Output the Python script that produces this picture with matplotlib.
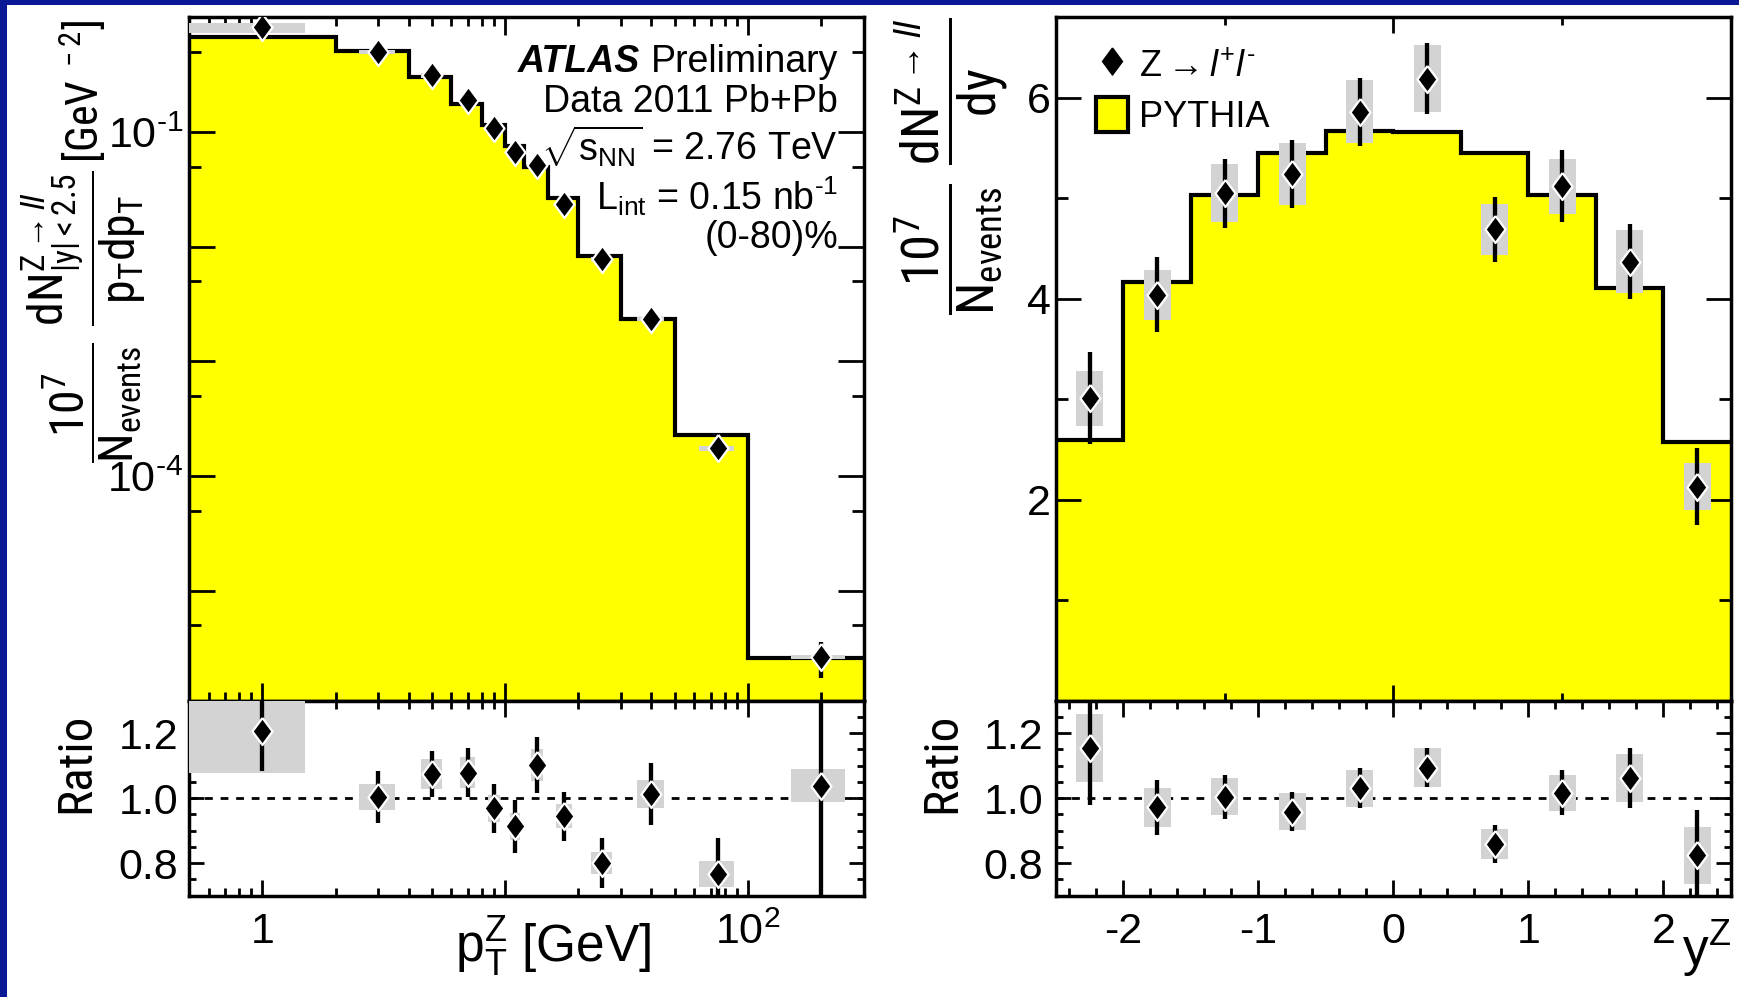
import numpy as np
import matplotlib
matplotlib.use("Agg")
import matplotlib.pyplot as plt
from matplotlib import font_manager
from matplotlib.font_manager import FontProperties
from matplotlib.patches import Rectangle, Patch
from matplotlib.lines import Line2D
from matplotlib.ticker import (FixedLocator, FuncFormatter, NullFormatter,
                               LogLocator, MultipleLocator, FixedFormatter)


def find_condensed():
    # the vertical axis titles of the original use a narrow sans face
    ents = font_manager.fontManager.ttflist
    names = {f.name for f in ents}
    for fam in ('Liberation Sans Narrow', 'Roboto Condensed',
                'Open Sans Condensed', 'Noto Sans Condensed'):
        if fam in names:
            return fam
    for fam in ('Roboto', 'Noto Sans', 'Open Sans'):
        for f in ents:
            if f.name == fam and f.stretch == 'condensed' and f.style == 'normal':
                return fam + ':condensed'
    return 'Liberation Sans'


NARROW = find_condensed()
HY = '\u2010'  # short hyphen for exponents, as in the original

plt.rcParams['font.family'] = ['Liberation Sans', 'DejaVu Sans']
plt.rcParams['mathtext.fontset'] = 'custom'
plt.rcParams['mathtext.rm'] = 'Liberation Sans'
plt.rcParams['mathtext.it'] = 'Liberation Sans:italic'
plt.rcParams['mathtext.bf'] = 'Liberation Sans:bold'
plt.rcParams['mathtext.sf'] = NARROW
plt.rcParams['axes.unicode_minus'] = False

# ---- Z pT spectrum (left)
pt_edges = [0, 2, 4, 6, 8, 10, 12, 15, 20, 30, 50, 100, 300]
pt_pythia = [0.676, 0.506, 0.302, 0.177, 0.116, 0.076, 0.0498, 0.0265,
             0.00836, 0.00234, 2.27e-4, 2.58e-6]
pt_x = [1, 3, 5, 7, 9, 11, 13.5, 17.5, 25, 40, 75, 200]
pt_val = [0.815, 0.494, 0.312, 0.189, 0.108, 0.0669, 0.0511, 0.0237,
          0.00782, 0.00234, 1.74e-4, 2.65e-6]
pt_stat = [0.08, 0.039, 0.021, 0.013, 0.0083, 0.006, 0.004, 0.0019,
           0.00074, 0.00022, 2.5e-5, 0.9e-6]
pt_syst = [0.085, 0.02, 0.014, 0.0083, 0.0046, 0.003, 0.0024, 0.00092,
           0.00033, 0.0001, 0.9e-5, 1.3e-7]
pt_ratio = [1.206, 1.005, 1.074, 1.079, 0.969, 0.913, 1.102, 0.944,
            0.801, 1.013, 0.766, 1.039]
pt_ratio_stat = [0.121, 0.08, 0.07, 0.076, 0.075, 0.082, 0.087, 0.076,
                 0.076, 0.096, 0.111, 0.40]
pt_ratio_syst = [0.127, 0.04, 0.047, 0.047, 0.041, 0.042, 0.05, 0.037,
                 0.034, 0.042, 0.04, 0.05]

# ---- Z rapidity (right)
y_edges = [-2.5, -2.0, -1.5, -1.0, -0.5, 0.0, 0.5, 1.0, 1.5, 2.0, 2.5]
y_pythia = [2.59, 4.17, 5.03, 5.45, 5.67, 5.66, 5.45, 5.03, 4.11, 2.57]
y_x = [-2.25, -1.75, -1.25, -0.75, -0.25, 0.25, 0.75, 1.25, 1.75, 2.25]
y_val = [3.01, 4.04, 5.05, 5.24, 5.86, 6.19, 4.69, 5.12, 4.37, 2.13]
y_stat = [0.455, 0.37, 0.345, 0.335, 0.34, 0.355, 0.325, 0.355, 0.375, 0.385]
y_syst = [0.275, 0.25, 0.29, 0.31, 0.315, 0.335, 0.255, 0.275, 0.31, 0.235]
y_ratio = [1.155, 0.972, 1.004, 0.959, 1.031, 1.094, 0.86, 1.017, 1.062, 0.824]
y_ratio_stat = [0.176, 0.085, 0.068, 0.06, 0.062, 0.06, 0.059, 0.069, 0.093, 0.14]
y_ratio_syst = [0.104, 0.06, 0.057, 0.057, 0.057, 0.06, 0.046, 0.055, 0.075, 0.088]

W, H = 1740, 997
YELLOW = '#ffff00'
GREY = '#d3d3d3'
BLUE = '#0a1896'
diamond = [(0, 1), (0.74, 0), (0, -1), (-0.74, 0), (0, 1)]


def fx(x):
    return x / W


def fy(y):
    return 1 - y / H


def px_box(x0, y0, x1, y1):
    return [x0 / W, 1 - y1 / H, (x1 - x0) / W, (y1 - y0) / H]


def draw_hist(ax, edges, vals, base):
    ax.stairs(vals, edges, fill=True, color=YELLOW, baseline=base, zorder=1)
    ax.stairs(vals, edges, baseline=None, color='black', lw=3, zorder=2)


def draw_points(ax, x, y, stat, syst, half_w):
    for xi, yi, si, hw in zip(x, y, syst, half_w):
        ax.add_patch(Rectangle((xi - hw, yi - si), 2 * hw, 2 * si,
                               facecolor=GREY, edgecolor='none', zorder=3))
    ax.errorbar(x, y, yerr=stat, fmt='none', ecolor='black',
                elinewidth=3.1, capsize=0, zorder=4)
    ax.plot(x, y, ls='none', marker=diamond, ms=19.5, mfc='black',
            mec='white', mew=1.6, zorder=5)


def style(ax, xl, yl):
    for s in ax.spines.values():
        s.set_linewidth(2.5)
    ax.tick_params(axis='both', which='both', direction='in', top=True,
                   right=True, width=2.0, labelsize=31)
    ax.tick_params(axis='x', which='major', length=xl[0], pad=12)
    ax.tick_params(axis='x', which='minor', length=xl[1])
    ax.tick_params(axis='y', which='major', length=yl[0])
    ax.tick_params(axis='y', which='minor', length=yl[1])


def fit_length(t, target):
    # scale a rotated title so that its length matches the original
    for _ in range(2):
        ext = t.get_window_extent(fig.canvas.get_renderer())
        t.set_fontsize(t.get_fontsize() * target / ext.height)


def log_label(v, pos):
    e = int(round(np.log10(v)))
    if e in (-1, -4):
        return '$10^{' + HY + str(-e) + '}$'
    return ''


fig = plt.figure(figsize=(W / 100, H / 100), dpi=100)
fig.patch.set_facecolor(BLUE)
fig.add_artist(Rectangle((fx(7), -0.05), 1.1, fy(5) + 0.05,
                         transform=fig.transFigure, facecolor='white',
                         edgecolor='none', zorder=-10))

# ---------------- left: pT
pt_xlim = (0.5, 300)
ax1 = fig.add_axes(px_box(189.3, 17.3, 864, 700.7))
ax1r = fig.add_axes(px_box(189.3, 700.7, 864, 895.7))
for a in (ax1, ax1r):
    a.set_xscale('log')
    a.set_xlim(*pt_xlim)
    a.xaxis.set_major_locator(FixedLocator([1, 10, 100]))
    a.xaxis.set_minor_locator(LogLocator(base=10, subs=np.arange(2, 10), numticks=20))
    a.xaxis.set_minor_formatter(NullFormatter())

edges_draw = np.maximum(pt_edges, pt_xlim[0])
pt_hw = [(hi - lo) / 4 for lo, hi in zip(pt_edges[:-1], pt_edges[1:])]
draw_hist(ax1, edges_draw, pt_pythia, 1e-9)
draw_points(ax1, pt_x, pt_val, pt_stat, pt_syst, pt_hw)
ax1.set_yscale('log')
ax1.set_ylim(1.1e-6, 1.0)
ax1.yaxis.set_major_locator(FixedLocator(10.0 ** np.arange(-6, 1)))
ax1.yaxis.set_minor_locator(FixedLocator(5 * 10.0 ** np.arange(-6, 0)))
ax1.yaxis.set_major_formatter(FuncFormatter(log_label))
ax1.yaxis.set_minor_formatter(NullFormatter())
ax1.xaxis.set_major_formatter(NullFormatter())
style(ax1, (13, 6.5), (18.7, 8.6))
ax1.tick_params(axis='y', pad=4.5)

ax1r.axhline(1.0, color='black', lw=2, ls=(0, (2.8, 2.8)), zorder=1)
draw_points(ax1r, pt_x, pt_ratio, pt_ratio_stat, pt_ratio_syst, pt_hw)
ax1r.set_ylim(0.7, 1.3)
ax1r.yaxis.set_major_locator(FixedLocator([0.8, 1.0, 1.2]))
ax1r.yaxis.set_major_formatter(FixedFormatter(['0.8', '1.0', '1.2']))
ax1r.yaxis.set_minor_locator(MultipleLocator(0.05))
ax1r.xaxis.set_major_formatter(FuncFormatter(
    lambda v, p: {1: '1', 100: r'$10^{2}$'}.get(int(round(v)), '')))
style(ax1r, (11.5, 5.5), (10.8, 5))
ax1r.tick_params(axis='y', pad=8)

# ---------------- right: rapidity
ax2 = fig.add_axes(px_box(1056, 17.3, 1731, 700.7))
ax2r = fig.add_axes(px_box(1056, 700.7, 1731, 895.7))
y_hw = [0.1] * len(y_x)
draw_hist(ax2, y_edges, y_pythia, 0)
draw_points(ax2, y_x, y_val, y_stat, y_syst, y_hw)
ax2.set_xlim(-2.5, 2.5)
ax2.set_ylim(0, 6.8)
ax2.xaxis.set_major_locator(FixedLocator([0]))
ax2.xaxis.set_minor_locator(FixedLocator([-1.25, 1.25]))
ax2.xaxis.set_major_formatter(NullFormatter())
ax2.yaxis.set_major_locator(FixedLocator([2, 4, 6]))
ax2.yaxis.set_minor_locator(FixedLocator([1, 3, 5]))
style(ax2, (11.5, 5.8), (18, 8.6))
ax2.tick_params(axis='y', pad=4)

ax2r.axhline(1.0, color='black', lw=2, ls=(0, (2.8, 2.8)), zorder=1)
draw_points(ax2r, y_x, y_ratio, y_ratio_stat, y_ratio_syst, y_hw)
ax2r.set_xlim(-2.5, 2.5)
ax2r.set_ylim(0.7, 1.3)
ax2r.xaxis.set_major_locator(MultipleLocator(1))
ax2r.xaxis.set_minor_locator(MultipleLocator(0.2))
ax2r.yaxis.set_major_locator(FixedLocator([0.8, 1.0, 1.2]))
ax2r.yaxis.set_major_formatter(FixedFormatter(['0.8', '1.0', '1.2']))
ax2r.yaxis.set_minor_locator(MultipleLocator(0.05))
style(ax2r, (11.5, 5.5), (10.8, 5))
ax2r.tick_params(axis='y', pad=9)

leg = ax2.legend(handles=[Line2D([], [], ls='none', marker=diamond, ms=19.5,
                                 mfc='black', mec='black'),
                          Patch(facecolor=YELLOW, edgecolor='black', lw=3)],
                 labels=[r'Z$\rightarrow l^{+}l^{' + HY + '}$', 'PYTHIA'],
                 loc='upper left', bbox_to_anchor=(0.059, 0.957),
                 frameon=False, fontsize=26, handlelength=0.9,
                 handleheight=1.1, handletextpad=0.3, labelspacing=0.35,
                 borderpad=0, borderaxespad=0)

# ---------------- texts
tsz = 27
xr = fx(838)
prelim = fig.text(xr, fy(71.7), 'Preliminary', ha='right', va='baseline', fontsize=tsz)
fig.text(xr, fy(111.7), 'Data 2011 Pb+Pb', ha='right', va='baseline', fontsize=tsz)
fig.text(xr, fy(161.7), r'$\sqrt{\mathrm{s_{NN}}}$ = 2.76 TeV', ha='right', va='baseline', fontsize=tsz)
fig.text(xr, fy(210), r'L$_{\mathrm{int}}$ = 0.15 nb$^{' + HY + '1}$',
         ha='right', va='baseline', fontsize=tsz)
fig.text(xr, fy(248), '(0-80)%', ha='right', va='baseline', fontsize=tsz)
fig.canvas.draw()
bb = prelim.get_window_extent()
fig.text(fx(bb.x0 - 11), fy(71.7), 'ATLAS', ha='right', va='baseline',
         fontsize=tsz, fontweight='bold', fontstyle='italic')

narrow_fp = FontProperties(NARROW)
lab_left = (r'$\dfrac{\mathsf{10}^{\mathsf{7}}}{\mathsf{N}_{\mathsf{events}}}\ '
            r'\dfrac{\mathsf{dN}^{\mathsf{Z}\rightarrow ll}_{\mathsf{|y|<2.5}}}'
            r'{\mathsf{p}_{\mathsf{T}}\mathsf{dp}_{\mathsf{T}}}$')
lab_unit = r'$\mathsf{[GeV}^{\mathsf{\ -2}}\mathsf{]}$'
lab_right = (r'$\dfrac{\mathsf{10}^{\mathsf{7}}}{\mathsf{N}_{\mathsf{events}}}\ '
             r'\dfrac{\mathsf{dN}^{\mathsf{Z}\rightarrow ll}}{\mathsf{dy}}$')
t_left = fig.text(fx(84), fy(463), lab_left, rotation=90, ha='center',
                  va='bottom', fontsize=32)
t_unit = fig.text(fx(83), fy(20), lab_unit, rotation=90, ha='center',
                  va='top', fontsize=32)
t_right = fig.text(fx(951), fy(18), lab_right, rotation=90, ha='center',
                   va='top', fontsize=32)
t_rat1 = fig.text(fx(76), fy(763), 'Ratio', rotation=90, ha='center',
                  va='center', fontproperties=narrow_fp, fontsize=33)
t_rat2 = fig.text(fx(942), fy(763), 'Ratio', rotation=90, ha='center',
                  va='center', fontproperties=narrow_fp, fontsize=33)
fig.text(fx(553), fy(962), r'$\mathrm{p_{T}^{Z}}$ [GeV]', ha='center', va='baseline', fontsize=37)
fig.text(fx(1731), fy(966), r'y$^{\mathrm{Z}}$', ha='right', va='baseline', fontsize=37)

fig.canvas.draw()
fit_length(t_left, 292)
fit_length(t_unit, 143)
fit_length(t_right, 297)
fit_length(t_rat1, 100)
fit_length(t_rat2, 100)

fig.savefig('out.png', dpi=100, facecolor=fig.get_facecolor())
